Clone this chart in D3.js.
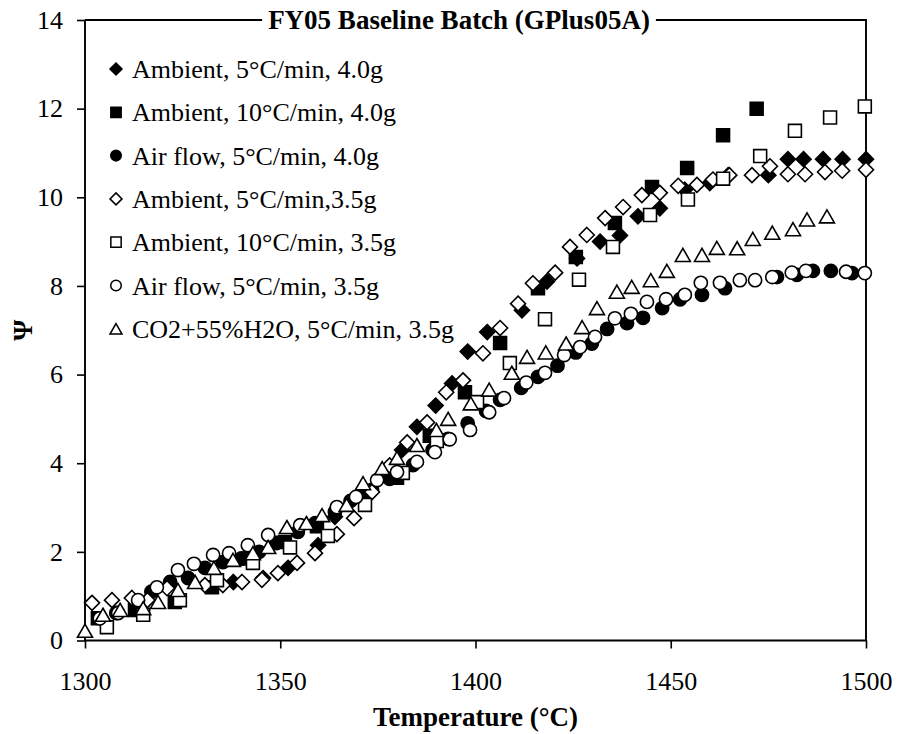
<!DOCTYPE html>
<html>
<head>
<meta charset="utf-8">
<script src="https://cdn.jsdelivr.net/npm/d3@7"></script>
<style>
  html, body { margin: 0; padding: 0; background: #fff; }
  svg { display: block; }
  text { font-family: "Liberation Serif", "Times New Roman", serif; fill: #000; }
</style>
</head>
<body>
<svg id="chart" width="898" height="734"></svg>
<script>
// ---------- data ----------
const chartTitle = "FY05 Baseline Batch (GPlus05A)";
const xLabel = "Temperature (°C)";
const yLabel = "Ψ";
const xTicks = [1300, 1350, 1400, 1450, 1500];
const yTicks = [0, 2, 4, 6, 8, 10, 12, 14];

const seriesNames = [
  "Ambient, 5°C/min, 4.0g",
  "Ambient, 10°C/min, 4.0g",
  "Air flow, 5°C/min, 4.0g",
  "Ambient, 5°C/min,3.5g",
  "Ambient, 10°C/min, 3.5g",
  "Air flow, 5°C/min, 3.5g",
  "CO2+55%H2O, 5°C/min, 3.5g"
];
const seriesShapes = ["diamond", "square", "circle", "diamond", "square", "circle", "triangle"];
const seriesFilled = [true, true, true, false, false, false, false];

const ambient5_40 = [
  [1338,1.32],[1345.6,1.41],[1352,1.64],[1359.7,2.15],[1364,2.79],[1381.2,4.3],[1385,4.82],
  [1389.8,5.3],[1394,5.8],[1398,6.52],[1403,6.96],[1411.9,7.45],[1418.3,8.1],[1426,8.62],
  [1431.9,9.0],[1437,9.14],[1441.6,9.57],[1447.2,9.75],[1453.6,10.17],[1460,10.32],[1464.7,10.5],
  [1475,10.5],[1480,10.86],[1484,10.86],[1489,10.86],[1494,10.86],[1500,10.86]
];
const ambient10_40 = [
  [1303.3,0.5],[1312.8,0.69],[1323,0.87],[1332.5,1.2],[1342,1.85],[1351.2,2.22],[1359.4,2.58],
  [1371.2,3.29],[1379.9,3.67],[1388.3,4.62],[1397.3,5.6],[1406.3,6.71],[1416,7.95],[1425.7,8.65],
  [1435.7,9.42],[1445.2,10.23],[1454.2,10.66],[1463.4,11.4],[1472,12.0]
];
const airflow5_40 = [
  [1308,0.62],[1313,0.85],[1317,1.1],[1321.8,1.32],[1326.4,1.41],[1330.7,1.64],[1335.3,1.77],
  [1340,1.85],[1344.6,2.0],[1349,2.2],[1354.5,2.45],[1359,2.65],[1364,2.9],[1368,3.15],
  [1373.5,3.4],[1378,3.65],[1384,3.96],[1389,4.3],[1393,4.55],[1398,4.9],[1402.7,5.18],
  [1406.3,5.43],[1411.7,5.7],[1416,5.95],[1421,6.2],[1425.7,6.5],[1429.8,6.7],[1433.7,7.03],
  [1438.8,7.16],[1442.9,7.28],[1447.8,7.5],[1452.4,7.7],[1458,7.8],[1463.9,7.95],[1477.2,8.2],
  [1482.3,8.25],[1486.4,8.34],[1491,8.34],[1496.4,8.29]
];
const ambient5_35 = [
  [1301.8,0.85],[1306.9,0.91],[1312,0.96],[1316,0.91],[1321,1.18],[1330.7,1.25],[1335.3,1.25],
  [1340.2,1.32],[1345.3,1.37],[1349.4,1.52],[1354.3,1.75],[1358.9,1.97],[1364.5,2.4],[1368.9,2.76],
  [1373.5,3.35],[1378,3.95],[1382.5,4.47],[1387.6,4.92],[1392.5,5.6],[1396.8,5.87],[1401.9,6.48],
  [1406.3,7.05],[1410.9,7.6],[1414.7,8.06],[1420.4,8.3],[1424.2,8.88],[1428.5,9.15],[1433.2,9.53],
  [1437.8,9.78],[1442.6,10.05],[1447.2,10.1],[1451.9,10.26],[1456.7,10.28],[1460.8,10.4],
  [1465,10.5],[1470.8,10.5],[1475.4,10.7],[1480,10.52],[1484.4,10.52],[1489.5,10.57],
  [1493.9,10.6],[1500,10.62]
];
const ambient10_35 = [
  [1305.6,0.3],[1314.9,0.58],[1324.3,0.91],[1333.8,1.36],[1343,1.75],[1352.5,2.1],[1362.2,2.36],
  [1371.7,3.06],[1381.4,3.78],[1390.1,4.5],[1400.4,5.38],[1408.8,6.26],[1417.8,7.25],[1426.5,8.14],
  [1435.2,8.88],[1444.7,9.6],[1454.4,9.95],[1463.4,10.42],[1472.9,10.93],[1481.8,11.5],
  [1490.8,11.8],[1499.7,12.05]
];
const airflow5_35 = [
  [1303.8,0.5],[1308.5,0.62],[1313.6,0.91],[1318.4,1.2],[1323.8,1.59],[1327.9,1.73],[1332.8,1.93],
  [1336.9,1.97],[1341.7,2.15],[1346.9,2.38],[1355.1,2.6],[1364.5,3.01],[1369.4,3.24],[1374.8,3.62],
  [1379.9,3.8],[1385,4.03],[1389.6,4.25],[1393.4,4.54],[1398.6,4.75],[1403.5,5.15],[1407.3,5.47],
  [1413,5.82],[1417.8,6.04],[1422.7,6.44],[1426.8,6.62],[1430.6,6.85],[1435.7,7.27],[1439.8,7.37],
  [1443.9,7.64],[1448.8,7.7],[1453.6,7.8],[1457.7,8.07],[1462.6,8.07],[1467.7,8.13],[1471.6,8.13],
  [1476,8.2],[1481,8.3],[1484.6,8.34],[1494.9,8.32],[1499.7,8.29]
];
const co2h2o5_35 = [
  [1300,0.22],[1304.6,0.58],[1309,0.69],[1314.9,0.73],[1318.7,0.87],[1323.8,1.14],[1328.2,1.32],
  [1333,1.64],[1337.9,1.82],[1343,1.97],[1346.9,2.11],[1351.7,2.56],[1356.7,2.65],[1360.7,2.83],
  [1367,3.06],[1371.2,3.55],[1376.1,3.89],[1379.9,4.12],[1385,4.41],[1390,4.75],[1393,5.0],
  [1398.8,5.35],[1403.5,5.66],[1409.3,6.04],[1413.2,6.4],[1418,6.5],[1423.2,6.7],[1427.3,7.07],
  [1431.1,7.5],[1436.2,7.87],[1440,7.98],[1444.9,8.13],[1449,8.34],[1453.1,8.7],[1458,8.7],
  [1461.8,8.86],[1467,8.85],[1471,9.06],[1476,9.2],[1481.3,9.28],[1484.9,9.5],[1490,9.57]
];
const seriesData = [ambient5_40, ambient10_40, airflow5_40, ambient5_35, ambient10_35, airflow5_35, co2h2o5_35];

// ---------- layout ----------
const svg = d3.select("#chart");
const L = 85, R = 866, T = 20, B = 640.5;
const x = d3.scaleLinear().domain([1300, 1500]).range([L, R]);
const y = d3.scaleLinear().domain([0, 14]).range([B, T]);
const SW = 1.6;

function markerPath(shape, s) {
  const h = s / 2;
  if (shape === "diamond") return `M0,${-h}L${h},0L0,${h}L${-h},0Z`;
  if (shape === "square") { const q = h * 0.86; return `M${-q},${-q}H${q}V${q}H${-q}Z`; }
  if (shape === "triangle") { const t = h * 0.87; return `M0,${-t}L${h},${t}L${-h},${t}Z`; }
  const r = h * 0.88;
  return `M${r},0A${r},${r} 0 1,1 ${-r},0A${r},${r} 0 1,1 ${r},0Z`;
}

// axes
const xAxis = d3.axisBottom(x).tickValues(xTicks).tickSize(8).tickSizeOuter(0).tickPadding(23).tickFormat(d3.format("d"));
const yAxis = d3.axisLeft(y).tickValues(yTicks).tickSize(8).tickSizeOuter(0).tickPadding(14).tickFormat(d3.format("d"));

const gx = svg.append("g").attr("transform", `translate(0,${B})`).call(xAxis);
const gy = svg.append("g").attr("transform", `translate(${L},0)`).call(yAxis);
[gx, gy].forEach(g => {
  g.select(".domain").remove();
  g.selectAll(".tick line").attr("stroke", "#000").attr("stroke-width", SW);
  g.selectAll(".tick text").attr("font-size", 26)
    .style("font-family", '"Liberation Serif", "Times New Roman", serif').attr("fill", "#000");
});

// frame
const frame = svg.append("g").attr("fill", "none").attr("stroke", "#000").attr("stroke-width", SW + 0.3);
frame.append("path").attr("d", `M${L},${T}V${B}H${R}V${T}H${L}`);

// points
const plot = svg.append("g");
seriesData.forEach((data, i) => {
  plot.append("g").selectAll("path").data(data).join("path")
    .attr("transform", d => `translate(${x(d[0])},${y(d[1])})`)
    .attr("d", markerPath(seriesShapes[i], 15))
    .attr("fill", seriesFilled[i] ? "#000" : "#fff")
    .attr("stroke", "#000").attr("stroke-width", SW);
});

// title over top frame line
const titleG = svg.append("g");
const titleBg = titleG.append("rect").attr("fill", "#fff");
const title = titleG.append("text").attr("x", 459).attr("y", 29).attr("text-anchor", "middle")
  .attr("font-size", 27).attr("font-weight", "bold").text(chartTitle);
const bb = title.node().getBBox();
titleBg.attr("x", bb.x - 6).attr("y", T - 3).attr("width", bb.width + 12).attr("height", 6);

// legend
const lg = svg.append("g");
const rowY0 = 69, rowDY = 43.3;
seriesNames.forEach((name, i) => {
  const cy = rowY0 + i * rowDY;
  lg.append("path").attr("transform", `translate(116,${cy})`)
    .attr("d", markerPath(seriesShapes[i], 12))
    .attr("fill", seriesFilled[i] ? "#000" : "#fff")
    .attr("stroke", "#000").attr("stroke-width", 1.5);
  lg.append("text").attr("x", 132).attr("y", cy + 9).attr("font-size", 26).text(name);
});

// axis titles
svg.append("text").attr("x", (L + R) / 2).attr("y", 726).attr("text-anchor", "middle")
  .attr("font-size", 27).attr("font-weight", "bold").text(xLabel);
svg.append("text").attr("transform", `translate(32,${(T + B) / 2}) rotate(-90)`).attr("text-anchor", "middle")
  .attr("font-size", 27).attr("font-weight", "bold").text(yLabel);
</script>
</body>
</html>
